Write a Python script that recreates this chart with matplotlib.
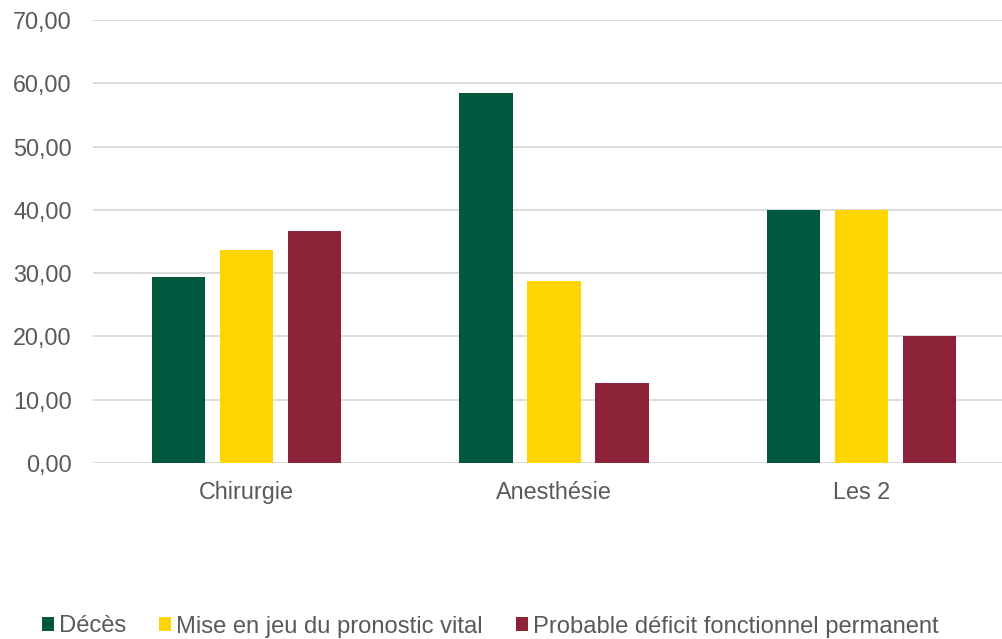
import matplotlib
matplotlib.use("Agg")
import matplotlib.pyplot as plt
import numpy as np
from matplotlib.patches import Patch

categories = ["Chirurgie", "Anesthésie", "Les 2"]
series_names = ["Décès", "Mise en jeu du pronostic vital", "Probable déficit fonctionnel permanent"]
deces = [29.35, 58.45, 40.0]
mise_en_jeu = [33.6, 28.8, 40.0]
deficit = [36.7, 12.7, 20.0]
yticks = [0, 10, 20, 30, 40, 50, 60, 70]
colors = ["#02573F", "#FFD500", "#8B2238"]

plt.rcParams['font.family'] = ['Liberation Sans', 'DejaVu Sans']
text_color = "#595959"
fs = 16.8
lfs = 17.1

W, H = 1003, 639
fig = plt.figure(figsize=(W / 100, H / 100), dpi=100)
left_px, right_px = 92.7, 1003
top_px, bottom_px = 20, 463
ax = fig.add_axes([left_px / W, (H - bottom_px) / H, (right_px - left_px) / W, (bottom_px - top_px) / H])

x = np.arange(len(categories))
width = 0.174
step = 0.2213
series = [deces, mise_en_jeu, deficit]
for i, (vals, name, c) in enumerate(zip(series, series_names, colors)):
    ax.bar(x + (i - 1) * step, vals, width, color=c, label=name, zorder=3)

ax.set_ylim(0, 70)
cat_px = 307.3
ax.set_xlim(-0.5, 2.5 - (1015 - 1003) / cat_px)
ax.set_yticks(yticks)
ax.set_yticklabels([f"{v:.2f}".replace(".", ",") for v in yticks])
ax.set_xticks(x)
ax.set_xticklabels(categories)
ax.tick_params(axis='both', length=0, labelsize=fs, colors=text_color)
ax.tick_params(axis='y', pad=15)
ax.tick_params(axis='x', pad=13)
ax.grid(axis='y', color="#D9D9D9", linewidth=1.3, zorder=0)
for s in ax.spines.values():
    s.set_visible(False)

fpx = lfs * 100 / 72
handles = [Patch(facecolor=c, edgecolor='none') for c in colors]
fig.legend(handles, series_names, loc='center left', bbox_to_anchor=(42 / W, 1 - 626.5 / H),
           ncol=3, frameon=False, fontsize=lfs, labelcolor=text_color, borderpad=0,
           borderaxespad=0, handlelength=12 / fpx, handleheight=12 / fpx,
           handletextpad=5 / fpx, columnspacing=33 / fpx)

fig.savefig("out.png", dpi=100)
